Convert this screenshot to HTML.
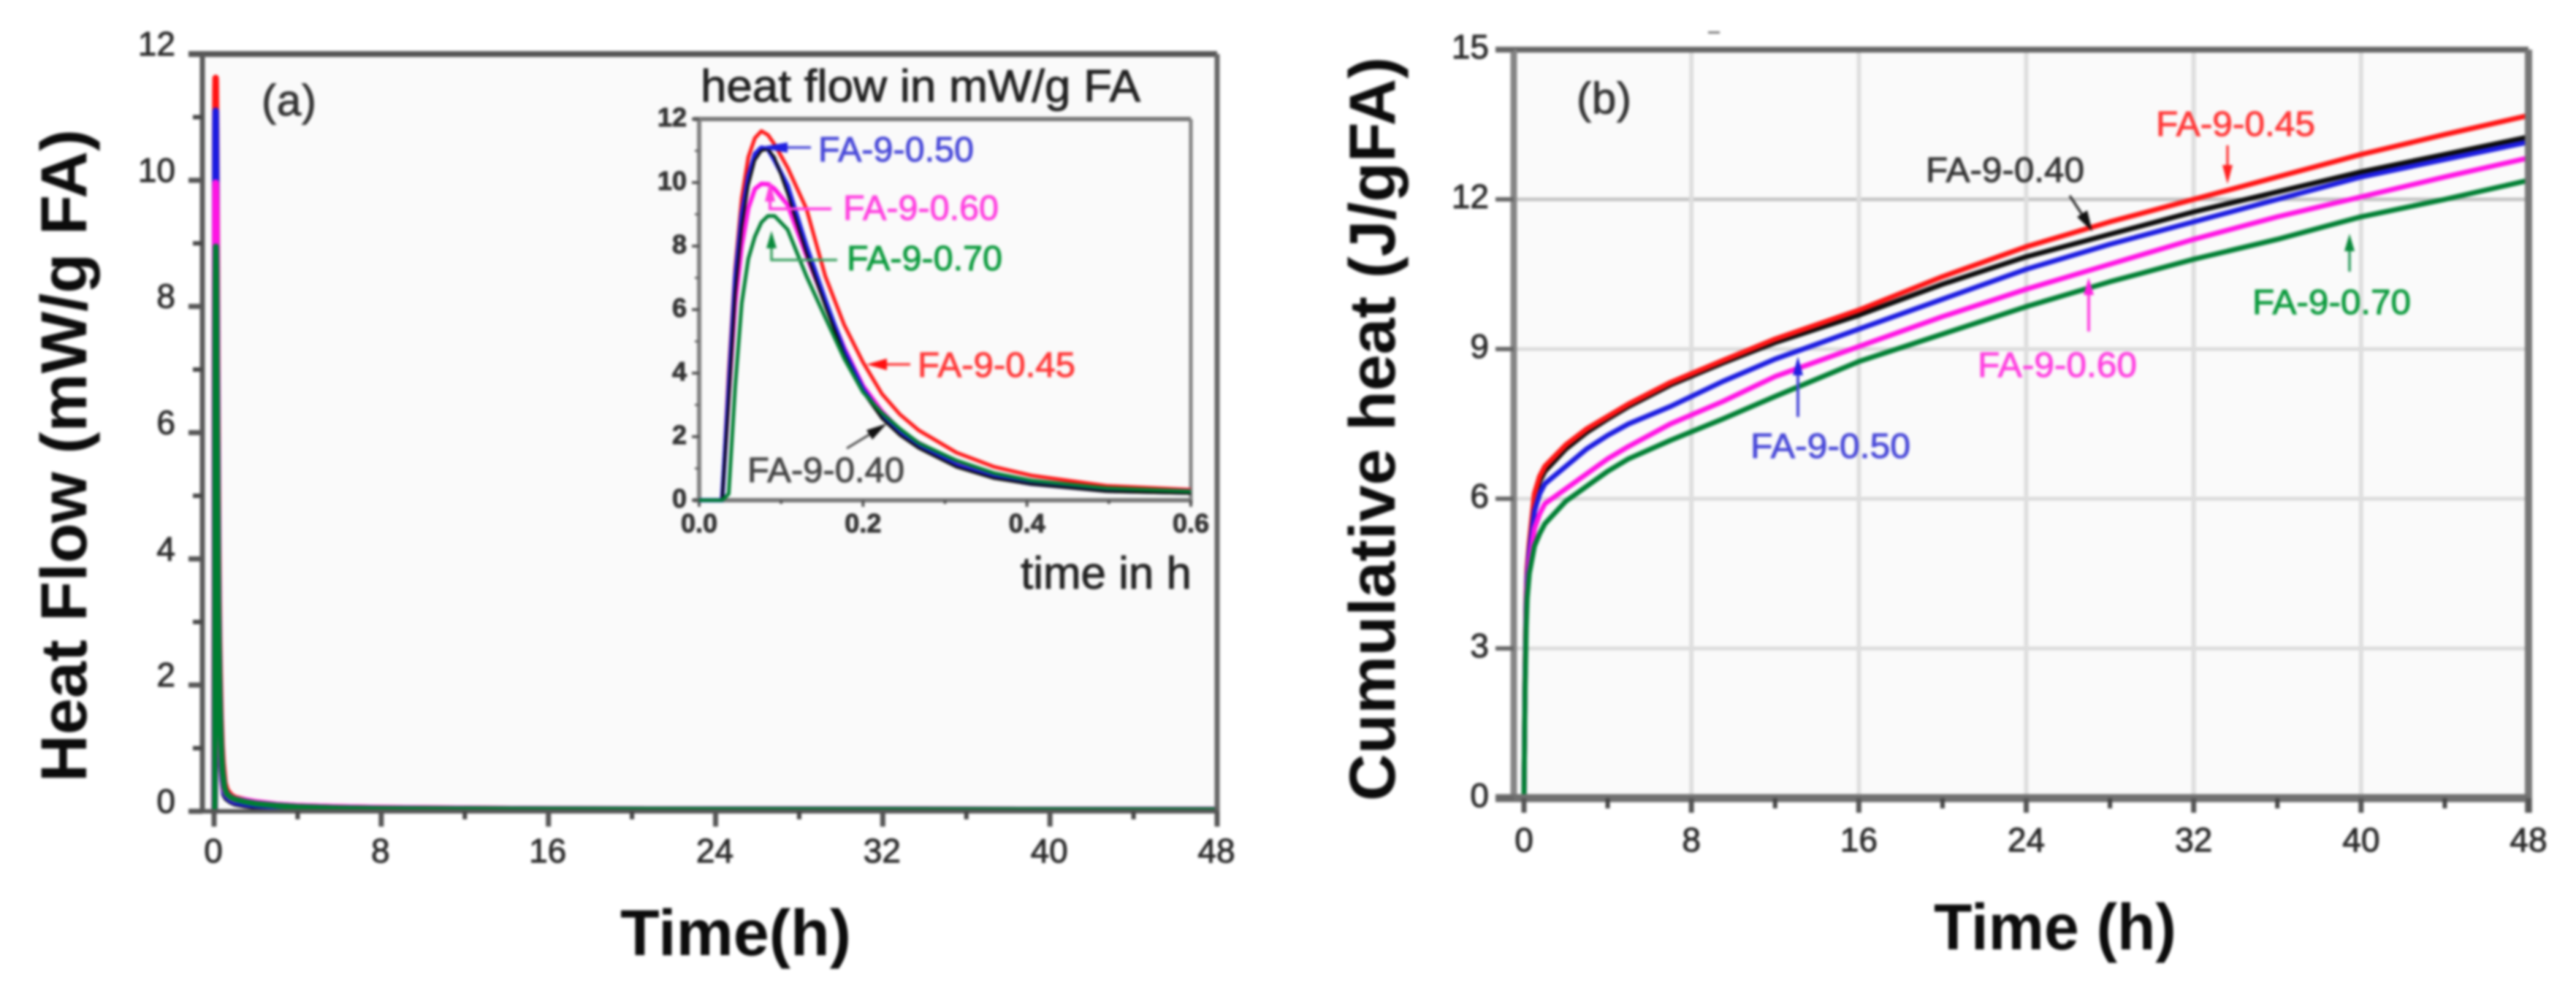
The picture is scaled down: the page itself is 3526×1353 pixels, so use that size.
<!DOCTYPE html>
<html lang="en">
<head>
<meta charset="utf-8">
<title>Heat flow and cumulative heat</title>
<style>
html,body{margin:0;padding:0;background:#fff;width:3526px;height:1353px;overflow:hidden}
svg{display:block;filter:blur(1.9px)}
text{font-family:"Liberation Sans",sans-serif}
.ann{font-size:48px}
.title{font-size:89px;font-weight:bold;fill:#0c0c0c}
</style>
</head>
<body>
<svg id="fig" xmlns="http://www.w3.org/2000/svg" width="3526" height="1353" viewBox="0 0 3526 1353">
  <rect x="0" y="0" width="3526" height="1353" fill="#fff"/>
  <rect x="277" y="74" width="1389" height="1037" fill="#fafafa"/>
  <rect x="2072" y="68" width="1389" height="1025" fill="#fafafa"/>
  <g id="gridB"></g>
  <g id="seriesA"></g>
  <g id="seriesB"></g>
  <g id="axesA"></g>
  <g id="axesB"></g>
  <g id="axesI"></g>
  <g id="seriesI"></g>

  <text class="title" transform="translate(118,1071) rotate(-90)" textLength="894" lengthAdjust="spacingAndGlyphs">Heat Flow (mW/g FA)</text>
  <text class="title" x="849" y="1308" textLength="316" lengthAdjust="spacingAndGlyphs">Time(h)</text>
  <text class="title" transform="translate(1909,1097) rotate(-90)" textLength="1019" lengthAdjust="spacingAndGlyphs">Cumulative heat (J/gFA)</text>
  <text class="title" x="2647" y="1300" textLength="332" lengthAdjust="spacingAndGlyphs">Time (h)</text>

  <text x="358" y="158" font-size="60" fill="#333" textLength="75">(a)</text>
  <text x="2158" y="155" font-size="60" fill="#333" textLength="75">(b)</text>
  <rect x="2338" y="43" width="16" height="3" fill="#777"/>

  <text x="959" y="139" font-size="62" fill="#222" textLength="602" lengthAdjust="spacingAndGlyphs">heat flow in mW/g FA</text>
  <text x="1397" y="806" font-size="62" fill="#222" textLength="234" lengthAdjust="spacingAndGlyphs">time in h</text>

  <!-- inset annotations -->
  <g>
    <text class="ann" x="1120" y="221" fill="#4848d8" textLength="213" lengthAdjust="spacingAndGlyphs">FA-9-0.50</text>
    <path d="M1110 202H1050" stroke="#4848d8" stroke-width="3.5" fill="none"/>
    <polygon points="1036,202 1078,195 1078,209" fill="#2020e0"/>
  </g>
  <g>
    <text class="ann" x="1154" y="301" fill="#ff40e0" textLength="213" lengthAdjust="spacingAndGlyphs">FA-9-0.60</text>
    <path d="M1138 286H1054V262" stroke="#ff40e0" stroke-width="4" fill="none"/>
    <polygon points="1054,248 1047,276 1061,276" fill="#ff40e0"/>
  </g>
  <g>
    <text class="ann" x="1159" y="370" fill="#0a9a3c" textLength="213" lengthAdjust="spacingAndGlyphs">FA-9-0.70</text>
    <path d="M1146 356H1056V330" stroke="#3aa060" stroke-width="3.5" fill="none"/>
    <polygon points="1056,316 1049,340 1063,340" fill="#0a8a3c"/>
  </g>
  <g>
    <text class="ann" x="1256" y="516" fill="#ff3838" textLength="216" lengthAdjust="spacingAndGlyphs">FA-9-0.45</text>
    <path d="M1246 499H1195" stroke="#ff3838" stroke-width="3.5" fill="none"/>
    <polygon points="1186,499 1214,491 1214,507" fill="#ff1010"/>
  </g>
  <g>
    <text class="ann" x="1023" y="660" fill="#444" textLength="215" lengthAdjust="spacingAndGlyphs">FA-9-0.40</text>
    <path d="M1159 614L1205 586" stroke="#444" stroke-width="3" fill="none"/>
    <polygon points="1214,580 1186,589 1194,602" fill="#111"/>
  </g>

  <!-- panel b annotations -->
  <g>
    <text class="ann" x="2951" y="186" fill="#ff3838" textLength="218" lengthAdjust="spacingAndGlyphs">FA-9-0.45</text>
    <path d="M3049 199V240" stroke="#ff3838" stroke-width="3.5"/>
    <polygon points="3049,252 3042,226 3056,226" fill="#ff2020"/>
  </g>
  <g>
    <text class="ann" x="2636" y="249" fill="#333" textLength="217" lengthAdjust="spacingAndGlyphs">FA-9-0.40</text>
    <path d="M2833 268L2858 306" stroke="#333" stroke-width="3.5"/>
    <polygon points="2864,317 2843,297 2857,288" fill="#111"/>
  </g>
  <g>
    <text class="ann" x="2396" y="627" fill="#4848d8" textLength="219" lengthAdjust="spacingAndGlyphs">FA-9-0.50</text>
    <path d="M2461 571V500" stroke="#4848d8" stroke-width="4"/>
    <polygon points="2461,488 2454,514 2468,514" fill="#2020e0"/>
  </g>
  <g>
    <text class="ann" x="2707" y="516" fill="#ff40e0" textLength="218" lengthAdjust="spacingAndGlyphs">FA-9-0.60</text>
    <path d="M2859 454V390" stroke="#ff40e0" stroke-width="4"/>
    <polygon points="2859,380 2852,404 2866,404" fill="#ff20e0"/>
  </g>
  <g>
    <text class="ann" x="3083" y="430" fill="#0a9a3c" textLength="217" lengthAdjust="spacingAndGlyphs">FA-9-0.70</text>
    <path d="M3216 372V330" stroke="#2a9a5c" stroke-width="3.5"/>
    <polygon points="3216,320 3209,344 3223,344" fill="#0a8a3c"/>
  </g>
</svg>
<script>
// Shared time samples (hours)
const insetTime = [0,.028,.036,.044,.052,.06,.068,.076,.084,.092,.108,.131,.154,.177,.2,.223,.245,.268,.314,.36,.405,.497,.6];
const tailTime = [.8,1,1.5,2,3,4,6,8,16,48];
const cumTime = [0,.05,.1,.15,.25,.5,.75,1,2,3,4,5,7,9.5,12,16,20,24,28,32,36,40,44,48];

// Heat flow (mW/g FA)
const flow040 = [0,0,3,6.5,8.6,9.9,10.7,11,11.05,10.8,9.64,7.76,6.1,4.57,3.4,2.57,2.04,1.63,1.04,.68,.5,.27,.21];
const flow045 = [0,0,4,7.3,9.5,10.8,11.4,11.62,11.5,11.2,10.47,9.17,7.05,5.52,4.34,3.35,2.7,2.2,1.5,1.05,.78,.45,.33];
const flow050 = [0,0,3.5,7,9,10.2,10.9,11.1,11.05,10.7,9.9,8,6.3,4.7,3.5,2.65,2.1,1.7,1.1,.72,.52,.3,.24];
const flow060 = [0,0,3.3,6.2,8,9.2,9.8,9.96,9.95,9.8,9.3,7.7,6.2,4.8,3.6,2.8,2.2,1.8,1.2,.8,.6,.35,.28];
const flow070 = [0,0,.2,3.6,6.2,7.6,8.3,8.75,8.95,8.95,8.52,7.05,5.75,4.46,3.4,2.75,2.25,1.8,1.25,.85,.62,.38,.28];

const tail040 = [.16,.13,.1,.08,.06,.05,.04,.03,.03,.02];
const tail045 = [.25,.21,.17,.14,.1,.08,.06,.05,.03,.02];
const tail050 = [.18,.15,.12,.1,.08,.06,.05,.04,.03,.02];
const tail060 = [.22,.19,.17,.14,.1,.08,.06,.05,.03,.02];
const tail070 = [.22,.19,.15,.12,.09,.07,.05,.04,.03,.02];

// Cumulative heat (J/g FA)
const cum040 = [0,2.3,3.9,4.5,5,6,6.35,6.55,7,7.33,7.6,7.85,8.28,8.72,9.13,9.68,10.3,10.85,11.3,11.75,12.15,12.55,12.9,13.25];
const cum045 = [0,2.4,4,4.6,5.1,6.1,6.45,6.65,7.08,7.4,7.65,7.9,8.33,8.77,9.2,9.78,10.45,11.05,11.55,12,12.45,12.9,13.3,13.68];
const cum050 = [0,2.3,3.8,4.4,4.9,5.75,6.1,6.3,6.65,7,7.27,7.5,7.85,8.35,8.8,9.4,10,10.6,11.1,11.55,12,12.45,12.8,13.15];
const cum060 = [0,2.2,3.6,4.2,4.7,5.4,5.7,5.9,6.2,6.5,6.8,7.05,7.5,7.95,8.45,9.05,9.65,10.2,10.7,11.2,11.65,12.05,12.45,12.83];
const cum070 = [0,2.1,3.4,4,4.5,5.05,5.3,5.5,5.95,6.25,6.55,6.8,7.17,7.6,8.05,8.75,9.3,9.85,10.35,10.8,11.2,11.65,12,12.38];

// Tick values
const xTicksMajor = [0,8,16,24,32,40,48];
const xTicksMinor = [4,12,20,28,36,44];
const yTicksA = [0,2,4,6,8,10,12];
const yTicksAMinor = [1,3,5,7,9,11];
const yTicksB = [0,3,6,9,12,15];
const yGridB = [3,6,9,12];
const xGridB = [8,16,24,32,40];
const insetXMajor = [0,.2,.4,.6];
const insetXMinor = [.1,.3,.5];
const insetYMajor = [0,2,4,6,8,10,12];
const insetYMinor = [1,3,5,7,9,11];

const RED = '#ff1414', BLUE = '#1c1ce0', PINK = '#ff14e4', GREEN = '#007f33', BLACK = '#0c0c0c';

const NS = 'http://www.w3.org/2000/svg';
const xA = t => 293 + t * (1666 - 293) / 48;
const yA = v => 1111 - v * (1111 - 74) / 12;
const xB = t => 2086 + t * (3461 - 2086) / 48;
const yB = v => 1093 - v * (1093 - 68) / 15;
const xI = t => 957 + t * (1630 - 957) / 0.6;
const yI = v => 685 - v * (685 - 163) / 12;

function seg(parent, x1, y1, x2, y2, color, width, name) {
  const el = document.createElementNS(NS, 'line');
  el.setAttribute('x1', x1);
  el.setAttribute('y1', y1);
  el.setAttribute('x2', x2);
  el.setAttribute('y2', y2);
  el.setAttribute('stroke', color);
  el.setAttribute('stroke-width', width);
  
  
  parent.appendChild(el);
}
function label(parent, x, y, str, size, anchor, weight, color, name) {
  const el = document.createElementNS(NS, 'text');
  el.setAttribute('x', x);
  el.setAttribute('y', y);
  el.setAttribute('font-size', size);
  el.setAttribute('text-anchor', anchor);
  el.setAttribute('font-weight', weight);
  el.setAttribute('fill', color);
  
  
  el.textContent = str;
  parent.appendChild(el);
}
function curve(parent, ts, vs, xf, yf, color, width, name) {
  const el = document.createElementNS(NS, 'polyline');
  el.setAttribute('points', ts.map((t, i) => xf(t).toFixed(1) + ',' + yf(vs[i]).toFixed(1)).join(' '));
  el.setAttribute('fill', 'none');
  el.setAttribute('stroke', color);
  el.setAttribute('stroke-width', width);
  el.setAttribute('stroke-linejoin', 'round');
  
  
  parent.appendChild(el);
}

// Panel b grid
const gridB = document.getElementById('gridB');
yGridB.forEach(v => seg(gridB, 2072, yB(v), 3461, yB(v), v === 12 ? '#c4c4c4' : '#dadada', 5, 'grid-line-y-' + v));
xGridB.forEach(t => seg(gridB, xB(t), 68, xB(t), 1093, '#dedede', 6, 'grid-line-x-' + t));

// Panel a series
const seriesA = document.getElementById('seriesA');
const fullTime = insetTime.concat(tailTime);
curve(seriesA, fullTime, flow040.concat(tail040), xA, yA, BLACK, 9, 'series-fa-9-0-40');
curve(seriesA, fullTime, flow045.concat(tail045), xA, yA, RED, 9, 'series-fa-9-0-45');
curve(seriesA, fullTime, flow050.concat(tail050), xA, yA, BLUE, 9, 'series-fa-9-0-50');
curve(seriesA, fullTime, flow060.concat(tail060), xA, yA, PINK, 9, 'series-fa-9-0-60');
curve(seriesA, fullTime, flow070.concat(tail070), xA, yA, GREEN, 8, 'series-fa-9-0-70');

// Panel b series
const seriesB = document.getElementById('seriesB');
curve(seriesB, cumTime, cum040, xB, yB, BLACK, 7, 'series-fa-9-0-40');
curve(seriesB, cumTime, cum045, xB, yB, RED, 7, 'series-fa-9-0-45');
curve(seriesB, cumTime, cum050, xB, yB, BLUE, 7, 'series-fa-9-0-50');
curve(seriesB, cumTime, cum060, xB, yB, PINK, 7, 'series-fa-9-0-60');
curve(seriesB, cumTime, cum070, xB, yB, GREEN, 7, 'series-fa-9-0-70');

// Panel a axes
const axesA = document.getElementById('axesA');
seg(axesA, 258, 74, 1666, 74, '#555', 8, 'panel-a-top-spine');
seg(axesA, 277, 74, 277, 1111, '#5a5a5a', 7, 'panel-a-left-spine');
seg(axesA, 1666, 74, 1666, 1132, '#666', 7, 'panel-a-right-spine');
seg(axesA, 258, 1111, 1666, 1111, '#555', 6, 'panel-a-bottom-spine');
xTicksMajor.forEach(t => {
  seg(axesA, xA(t), 1111, xA(t), 1132, '#555', 7, 'x-tick-' + t);
  label(axesA, xA(t) - 1, 1181, String(t), 46, 'middle', 'normal', '#2a2a2a', 'x-tick-label-' + t);
});
xTicksMinor.forEach(t => seg(axesA, xA(t), 1111, xA(t), 1122, '#444', 6, 'x-minor-tick-' + t));
yTicksA.forEach(v => {
  seg(axesA, 258, yA(v), 277, yA(v), '#555', 7, 'y-tick-' + v);
  label(axesA, 240, yA(v) + 2, String(v), 46, 'end', 'normal', '#2a2a2a', 'y-tick-label-' + v);
});
yTicksAMinor.forEach(v => seg(axesA, 264, yA(v), 277, yA(v), '#444', 6, 'y-minor-tick-' + v));

// Panel b axes
const axesB = document.getElementById('axesB');
seg(axesB, 2047, 68, 3461, 68, '#666', 8, 'panel-b-top-spine');
seg(axesB, 2072, 68, 2072, 1093, '#858585', 9, 'panel-b-left-spine');
seg(axesB, 3461, 68, 3461, 1113, '#777', 10, 'panel-b-right-spine');
seg(axesB, 2047, 1093, 3461, 1093, '#707070', 11, 'panel-b-bottom-spine');
xTicksMajor.forEach(t => {
  seg(axesB, xB(t), 1093, xB(t), 1113, '#555', 7, 'x-tick-' + t);
  label(axesB, xB(t), 1166, String(t), 46, 'middle', 'normal', '#2a2a2a', 'x-tick-label-' + t);
});
xTicksMinor.forEach(t => seg(axesB, xB(t), 1093, xB(t), 1107, '#444', 6, 'x-minor-tick-' + t));
yTicksB.forEach(v => {
  seg(axesB, 2047, yB(v), 2072, yB(v), '#666', 6, 'y-tick-' + v);
  label(axesB, 2038, yB(v) + 12, String(v), 46, 'end', 'normal', '#2a2a2a', 'y-tick-label-' + v);
});

// Inset axes
const axesI = document.getElementById('axesI');
seg(axesI, 949, 163, 1630, 163, '#777', 6, 'inset-top-spine');
seg(axesI, 957, 163, 957, 685, '#808080', 6, 'inset-left-spine');
seg(axesI, 1630, 163, 1630, 690, '#808080', 5, 'inset-right-spine');
seg(axesI, 949, 685, 1630, 685, '#777', 6, 'inset-bottom-spine');
insetXMajor.forEach(t => {
  seg(axesI, xI(t), 685, xI(t), 694, '#555', 4, 'inset-x-tick-' + t);
  label(axesI, xI(t), 729, t.toFixed(1), 36, 'middle', 'bold', '#333', 'inset-x-tick-label-' + t);
});
insetXMinor.forEach(t => seg(axesI, xI(t), 685, xI(t), 690, '#555', 4, 'inset-x-minor-tick-' + t));
insetYMajor.forEach(v => {
  seg(axesI, 947, yI(v), 957, yI(v), '#555', 4, 'inset-y-tick-' + v);
  label(axesI, 940, yI(v) + 10, String(v), 36, 'end', 'bold', '#333', 'inset-y-tick-label-' + v);
});
insetYMinor.forEach(v => seg(axesI, 951, yI(v), 957, yI(v), '#666', 3, 'inset-y-minor-tick-' + v));

// Inset series
const seriesI = document.getElementById('seriesI');
curve(seriesI, insetTime, flow045, xI, yI, RED, 5, 'inset-series-fa-9-0-45');
curve(seriesI, insetTime, flow060, xI, yI, PINK, 6, 'inset-series-fa-9-0-60');
curve(seriesI, insetTime, flow050, xI, yI, BLUE, 6, 'inset-series-fa-9-0-50');
curve(seriesI, insetTime, flow040, xI, yI, BLACK, 3.5, 'inset-series-fa-9-0-40');
curve(seriesI, insetTime, flow070, xI, yI, GREEN, 5, 'inset-series-fa-9-0-70');

// Heavier strokes on small text to match the soft, dark look of the scanned figure
document.querySelectorAll('text:not(.title)').forEach(el => {
  el.setAttribute('stroke', el.getAttribute('fill'));
  el.setAttribute('stroke-width', '1');
});
</script>
</body>
</html>
